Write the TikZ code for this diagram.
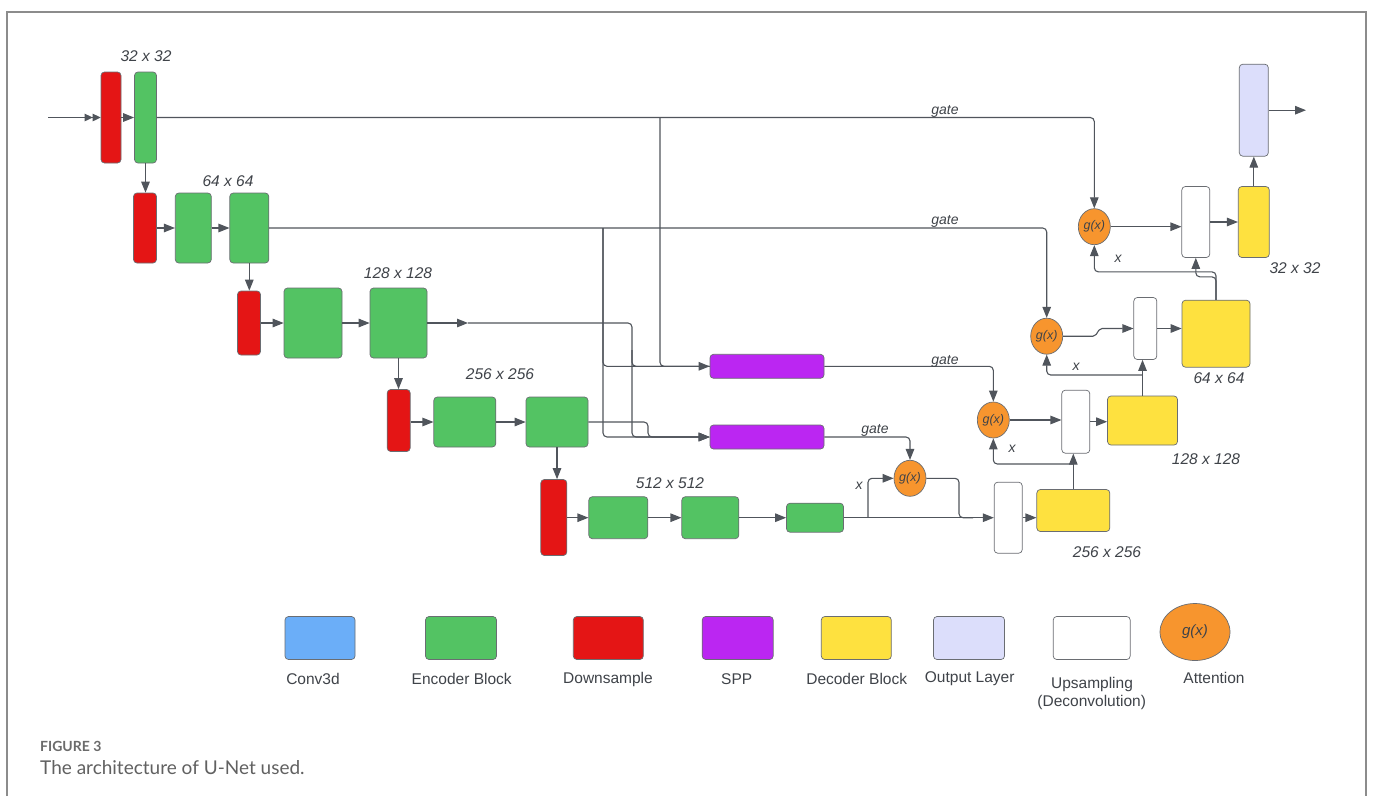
\documentclass[tikz,border=0pt]{standalone}
\usepackage{fontspec}
\setmainfont{Liberation Sans}
\newfontfamily\capfont{Lato}
\usetikzlibrary{shapes.geometric,arrows.meta,calc}
\definecolor{encg}{HTML}{53C363}
\definecolor{downr}{HTML}{E41515}
\definecolor{sppp}{HTML}{BB26F2}
\definecolor{decy}{HTML}{FEE13F}
\definecolor{outl}{HTML}{DCDEFB}
\definecolor{atto}{HTML}{F7952E}
\definecolor{convb}{HTML}{6BAEF8}
\definecolor{lnc}{HTML}{50555C}
\definecolor{txt}{HTML}{3F4349}
\definecolor{bord}{HTML}{6A6D72}
\begin{document}
\begin{tikzpicture}[x=1pt,y=-1pt,
  sz/.style 2 args={minimum width=#1pt, minimum height=#2pt},
  box/.style={draw=bord, line width=0.7pt, rounded corners=3.5pt, inner sep=0pt},
  enc/.style={box, fill=encg},
  down/.style={box, fill=downr},
  spp/.style={box, fill=sppp},
  dec/.style={box, fill=decy},
  outb/.style={box, fill=outl},
  ups/.style={box, fill=white},
  conv/.style={box, fill=convb},
  att/.style={ellipse, draw=bord, line width=0.7pt, fill=atto, minimum width=32pt, minimum height=36pt, inner sep=0pt, font=\itshape\fontsize{12.5}{14}\selectfont, text=txt},
  ln/.style={draw=lnc, line width=1.1pt, rounded corners=4pt},
  ar/.style={ln, -{Triangle[length=11pt,width=8.5pt]}},
  lab/.style={font=\itshape\fontsize{14}{16}\selectfont, text=txt, inner sep=0pt},
  dimlab/.style={font=\itshape\fontsize{15.5}{18}\selectfont, text=txt, inner sep=0pt},
  leg/.style={font=\fontsize{15.5}{18}\selectfont, text=txt, inner sep=0pt, align=center}
]
\useasboundingbox (0,0) rectangle (1375,796);
\fill[white] (0,0) rectangle (1375,796);
% frame
\draw[draw=black!45, line width=2pt] (7,796) -- (7,12) -- (1366,12) -- (1366,796);

% encoder
\node[down, sz={20}{91}] (red1) at (111,117.5) {};
\node[enc, sz={22}{91}] (green1) at (145.5,117.5) {};
\node[down, sz={23}{70}] (red2) at (145,228) {};
\node[enc, sz={36}{70}] (green2a) at (193.3,228) {};
\node[enc, sz={39}{70}] (green2b) at (249.3,228) {};
\node[down, sz={23}{64}] (red3) at (249,323) {};
\node[enc, sz={58}{70}] (green3a) at (313,323) {};
\node[enc, sz={57}{70}] (green3b) at (398.5,323) {};
\node[down, sz={23}{62}] (red4) at (398.7,420.5) {};
\node[enc, sz={62}{50}] (green4a) at (464.8,422) {};
\node[enc, sz={62}{50}] (green4b) at (557,422) {};
\node[down, sz={26}{76}] (red5) at (553.8,517.5) {};
\node[enc, sz={59}{42}] (green5a) at (618.3,517.7) {};
\node[enc, sz={57}{42}] (green5b) at (710.3,517.7) {};
\node[enc, sz={57}{29}] (green5c) at (815,517.7) {};
\node[spp, sz={114}{24}] (spp1) at (767,366.3) {};
\node[spp, sz={114}{24}] (spp2) at (767,437) {};

% attention
\node[att] (a1) at (1094.3,226.7) {g(x)};
\node[att] (a2) at (1046.7,336.2) {g(x)};
\node[att] (a3) at (993.3,420) {g(x)};
\node[att] (a4) at (910,478.3) {g(x)};

% decoder
\node[ups, sz={28}{71}] (up4) at (1008.2,517.7) {};
\node[dec, sz={73}{42}] (dec4) at (1073.3,510.5) {};
\node[ups, sz={28}{63}] (up3) at (1075.8,421.7) {};
\node[dec, sz={70}{49}] (dec3) at (1142.5,420.5) {};
\node[ups, sz={23}{62}] (up2) at (1145.3,328.5) {};
\node[dec, sz={68}{67}] (dec2) at (1216,333.7) {};
\node[ups, sz={28}{71}] (up1) at (1195.8,222) {};
\node[dec, sz={31}{71}] (dec1) at (1253.8,222) {};
\node[outb, sz={29}{92}] (out) at (1253.8,110.2) {};

% coordinates
\coordinate (in) at (48,117.5);
\coordinate (b1) at (660,117.5);
\coordinate (b2) at (603,228);
\coordinate (m3) at (468,323);
\coordinate (k3) at (632,323);
\coordinate (j3) at (632,350);
\coordinate (k4) at (648,422);
\coordinate (xb4) at (868,517.7);
\coordinate (o4) at (959,517.7);
\coordinate (xb3) at (1073.3,464);
\coordinate (xb2) at (1142.5,375);
\coordinate (oe) at (1306,110.2);

% encoder connectors
\draw[ln, -{Triangle[length=8pt,width=7.5pt]Triangle[length=8pt,width=7.5pt]}] (in) -- (red1.west);
\draw[ar] (red1.east) -- (green1.west);
\draw[ar] (green1.south) -- (green1.south |- red2.north);
\draw[ar] (red2.east) -- (green2a.west);
\draw[ar] (green2a.east) -- (green2b.west);
\draw[ar] (green2b.south) -- (green2b.south |- red3.north);
\draw[ar] (red3.east) -- (green3a.west);
\draw[ar] (green3a.east) -- (green3b.west);
\draw[ar] (green3b.south) -- (green3b.south |- red4.north);
\draw[ar] (red4.east |- green4a.west) -- (green4a.west);
\draw[ar] (green4a.east) -- (green4b.west);
\draw[ar] (green4b.south) -- (green4b.south |- red5.north);
\draw[ar] (red5.east |- green5a.west) -- (green5a.west);
\draw[ar] (green5a.east) -- (green5b.west);
\draw[ar] (green5b.east) -- (green5c.west);

% skip connections and SPP inputs
\draw[ar] (green1.east) -| (a1.north);
\draw[ar] (green2b.east) -| (a2.north);
\draw[ar] (b1) |- (spp1.west);
\draw[ln] (b2) |- (spp1.west);
\draw[ar] (b2) |- (spp2.west);
\draw[ar] (green3b.east) -- (m3);
\draw[ar] (m3) -- (k3) |- (spp2.west);
\draw[ln] (j3) |- (spp1.west);
\draw[ar] (green4b.east) -- (k4) |- (spp2.west);

% decoder connectors
\draw[ar] (spp1.east) -| (a3.north);
\draw[ar] (spp2.east) -| (a4.north);
\draw[ar] (green5c.east) -- (up4.west);
\draw[ar] (xb4) |- (a4.west);
\draw[ln] (a4.east) -| (o4) -- ++(14,0);
\draw[ar] (up4.east) -- (up4.east -| dec4.west);
\draw[ar] (dec4.north) -- (dec4.north |- up3.south);
\draw[ar] (xb3) -| (a3.south);
\draw[ar] (a3.east) -- (a3.east -| up3.west);
\draw[ar] (up3.east) -- (up3.east -| dec3.west);
\draw[ar] (dec3.north) -- (dec3.north |- up2.south);
\draw[ar] (xb2) -| (a2.south);
\draw[ar, rounded corners=2pt] (a2.east) -- (1095,336.2) -- (1100,328.5) -- (up2.west);
\draw[ar] (up2.east) -- (up2.east -| dec2.west);
\draw[ar] (dec2.north) -- ++(0,-23) -| (up1.south);
\draw[ar] (dec2.north) -- ++(0,-28) -| (a1.south);
\draw[ar] (a1.east) -- (a1.east -| up1.west);
\draw[ar] (up1.east) -- (up1.east -| dec1.west);
\draw[ar] (dec1.north) -- (out.south);
\draw[ar] (out.east |- oe) -- (oe);

% labels
\node[dimlab] (l1) at (146,56) {32 x 32};
\node[dimlab] (l2) at (228,181) {64 x 64};
\node[dimlab] (l3) at (398,273) {128 x 128};
\node[dimlab] (l4) at (500,374) {256 x 256};
\node[dimlab] (l5) at (670,483) {512 x 512};
\node[dimlab] (l6) at (1295,268) {32 x 32};
\node[dimlab] (l7) at (1219,378) {64 x 64};
\node[dimlab] (l8) at (1206,459) {128 x 128};
\node[dimlab] (l9) at (1107,552) {256 x 256};
\node[lab] (gt1) at (945,111) {gate};
\node[lab] (gt2) at (945,221.5) {gate};
\node[lab] (gt3) at (945,361) {gate};
\node[lab] (gt4) at (875,430) {gate};
\node[lab] (x4) at (859,486) {x};
\node[lab] (x3) at (1012,449) {x};
\node[lab] (x2) at (1076,367) {x};
\node[lab] (x1) at (1118,259) {x};

% legend
\node[conv, sz={70}{43}] (lg1) at (320,638) {};
\node[enc, sz={71}{43}] (lg2) at (461,638) {};
\node[down, sz={70}{43}] (lg3) at (608.3,638) {};
\node[spp, sz={71}{43}] (lg4) at (737.7,638) {};
\node[dec, sz={70}{43}] (lg5) at (856.3,638) {};
\node[outb, sz={71}{43}] (lg6) at (969,638) {};
\node[ups, sz={77}{43}] (lg7) at (1091.7,638) {};
\node[att, minimum width=70pt, minimum height=57pt, font=\itshape\fontsize{15}{17}\selectfont] (lg8) at (1195,632) {g(x)};
\node[leg] (t1) at (313,679) {Conv3d};
\node[leg] (t2) at (461.7,679) {Encoder Block};
\node[leg] (t3) at (608,679) {Downsample};
\node[leg] (t4) at (736.7,679) {SPP};
\node[leg] (t5) at (856.7,679) {Decoder Block};
\node[leg] (t6) at (969.7,679) {Output Layer};
\node[leg] (t7) at (1092,684) {Upsampling};
\node[leg] (t8) at (1091.7,702) {(Deconvolution)};
\node[leg] (t9) at (1214,678) {Attention};

% caption
\node[anchor=west, inner sep=0pt, font=\capfont\bfseries\fontsize{14}{16}\selectfont, text=black!58] (cap1) at (40,746.7) {FIGURE 3};
\node[anchor=west, inner sep=0pt, font=\capfont\fontsize{19}{22}\selectfont, text=black!62] (cap2) at (40,767.5) {The architecture of U-Net used.};
\end{tikzpicture}
\end{document}
